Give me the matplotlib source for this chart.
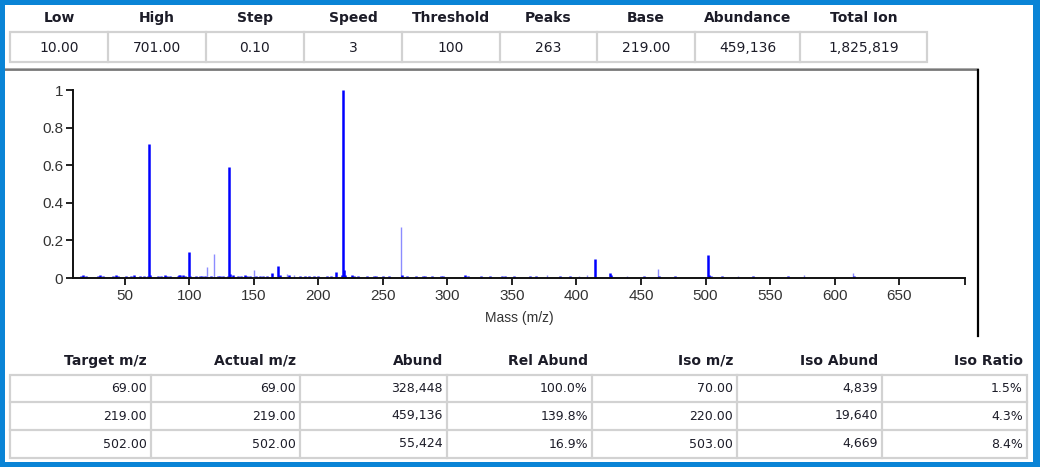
import matplotlib
matplotlib.use("Agg")
import matplotlib.pyplot as plt
from matplotlib.patches import Rectangle

# scan settings table
scan_headers = ["Low", "High", "Step", "Speed", "Threshold", "Peaks", "Base", "Abundance", "Total Ion"]
scan_values = ["10.00", "701.00", "0.10", "3", "100", "263", "219.00", "459,136", "1,825,819"]

# tune target table
target_headers = ["Target m/z", "Actual m/z", "Abund", "Rel Abund", "Iso m/z", "Iso Abund", "Iso Ratio"]
target_rows = [
    ["69.00", "69.00", "328,448", "100.0%", "70.00", "4,839", "1.5%"],
    ["219.00", "219.00", "459,136", "139.8%", "220.00", "19,640", "4.3%"],
    ["502.00", "502.00", "55,424", "16.9%", "503.00", "4,669", "8.4%"],
]

# spectrum, relative to base peak 219
mz_main = [16, 18, 20, 29, 31, 33, 41, 43, 45, 51, 55, 57, 62, 65, 68, 69, 70, 76, 78, 81, 83, 85,
           91, 92, 93, 95, 97, 100, 101, 105, 108, 110, 112, 117, 122, 124, 126, 130, 131, 132,
           134, 138, 140, 143, 145, 147, 152, 155, 157, 160, 164, 169, 170, 177, 186, 190, 193,
           197, 200, 207, 210, 214, 218, 219, 220, 221, 226, 228, 231, 238, 243, 245, 250, 255,
           265, 269, 276, 281, 283, 288, 295, 297, 314, 316, 326, 333, 342, 345, 352, 364, 369,
           387, 395, 414, 426, 427, 452, 464, 476, 502, 503, 504, 513, 537, 564, 615]
rel_main = [0.010, 0.014, 0.012, 0.010, 0.014, 0.012, 0.012, 0.015, 0.011, 0.010, 0.012, 0.014,
            0.010, 0.010, 0.012, 0.715, 0.014, 0.011, 0.012, 0.016, 0.013, 0.011,
            0.012, 0.014, 0.016, 0.016, 0.012, 0.140, 0.012, 0.011, 0.010, 0.010, 0.011, 0.010,
            0.010, 0.011, 0.010, 0.012, 0.588, 0.022,
            0.014, 0.011, 0.012, 0.014, 0.012, 0.012, 0.011, 0.011, 0.011, 0.010, 0.028, 0.064,
            0.015, 0.014, 0.010, 0.012, 0.011,
            0.012, 0.011, 0.012, 0.012, 0.030, 0.015, 1.000, 0.043, 0.015, 0.016, 0.013, 0.012,
            0.011, 0.012, 0.012, 0.011, 0.011,
            0.018, 0.012, 0.011, 0.011, 0.011, 0.011, 0.012, 0.012, 0.016, 0.012, 0.011, 0.010,
            0.010, 0.011, 0.010, 0.011, 0.011,
            0.012, 0.011, 0.100, 0.025, 0.014, 0.012, 0.012, 0.011, 0.121, 0.016, 0.012, 0.012,
            0.012, 0.012, 0.011]

# weaker trace drawn in pale blue
mz_pale = [114, 119, 150, 176, 181, 264, 377, 402, 408, 439, 463, 525, 576, 614]
rel_pale = [0.060, 0.130, 0.043, 0.020, 0.018, 0.273, 0.016, 0.012, 0.014, 0.012, 0.050,
            0.012, 0.018, 0.024]

W, H = 1040, 467
fig = plt.figure(figsize=(W / 100, H / 100), dpi=100)
fig.patch.set_facecolor("white")

# overlay in pixel coordinates for frame and tables
ov = fig.add_axes([0, 0, 1, 1])
ov.set_xlim(0, W)
ov.set_ylim(H, 0)
ov.axis("off")

blue = "#0a84d6"
grid_c = "#d2d2d2"
text_c = "#1c1c28"
font = "DejaVu Sans"

# blue window frame
for x, y, w, h in [(0, 0, W, 5), (0, 0, 5, H), (1033, 0, 7, H), (0, 462, W, 5)]:
    ov.add_patch(Rectangle((x, y), w, h, color=blue, lw=0, zorder=5))

# scan settings table
top_edges = [10, 108, 206, 304, 402, 500, 597, 695, 800, 927]
for i, (hd, val) in enumerate(zip(scan_headers, scan_values)):
    cx = (top_edges[i] + top_edges[i + 1]) / 2
    ov.text(cx, 18, hd, ha="center", va="center", fontsize=10, fontweight="bold",
            family=font, color=text_c)
    ov.text(cx, 47.5, val, ha="center", va="center", fontsize=10, family=font, color=text_c)
ov.add_patch(Rectangle((top_edges[0], 32), top_edges[-1] - top_edges[0], 30,
                       fill=False, ec=grid_c, lw=1.6))
for x in top_edges[1:-1]:
    ov.plot([x, x], [32, 62], color=grid_c, lw=1.6)

# plot panel border
ov.plot([5, 978], [68.5, 68.5], color="#9a9a9a", lw=1.2)
ov.plot([5, 978], [70, 70], color="#6e6e6e", lw=1.2)
ov.plot([977.5, 977.5], [70, 336], color="black", lw=1.6)

# target table
bot_edges = [10, 151, 300, 447, 592, 737, 882, 1027]
row_lines = [375, 402, 430, 458]
for j, hd in enumerate(target_headers):
    ov.text(bot_edges[j + 1] - 4, 361, hd, ha="right", va="center", fontsize=10,
            fontweight="bold", family=font, color=text_c)
    for r, row in enumerate(target_rows):
        cy = (row_lines[r] + row_lines[r + 1]) / 2
        ov.text(bot_edges[j + 1] - 4, cy, row[j], ha="right", va="center", fontsize=9,
                family=font, color=text_c)
ov.add_patch(Rectangle((bot_edges[0], row_lines[0]), bot_edges[-1] - bot_edges[0],
                       row_lines[-1] - row_lines[0], fill=False, ec=grid_c, lw=1.6))
for x in bot_edges[1:-1]:
    ov.plot([x, x], [row_lines[0], row_lines[-1]], color=grid_c, lw=1.6)
for y in row_lines[1:-1]:
    ov.plot([bot_edges[0], bot_edges[-1]], [y, y], color=grid_c, lw=1.6)

# spectrum
ax = fig.add_axes([73 / W, (H - 278) / H, (965 - 73) / W, (278 - 90) / H])
ax.set_xlim(10, 701)
ax.set_ylim(0, 1)
ax.vlines(mz_pale, 0, rel_pale, color="#8c8cff", lw=1.0, clip_on=False)
ax.vlines(mz_main, 0, rel_main, color="#0000ff", lw=1.8, clip_on=False)
ax.patch.set_alpha(0)
for s in ["top", "right"]:
    ax.spines[s].set_visible(False)
for s in ["left", "bottom"]:
    ax.spines[s].set_linewidth(1.4)
    ax.spines[s].set_color("#111111")
ax.set_xticks(range(50, 700, 50))
ax.set_xticks([701], minor=True)
ax.set_yticks([0, 0.2, 0.4, 0.6, 0.8, 1])
ax.set_yticklabels(["0", "0.2", "0.4", "0.6", "0.8", "1"])
ax.tick_params(axis="both", which="both", length=5, width=1.3, color="#111111",
               labelsize=11, labelcolor="#333333")
ax.tick_params(axis="x", pad=3)
ax.tick_params(axis="y", pad=2)
for lab in ax.get_xticklabels() + ax.get_yticklabels():
    lab.set_family("Liberation Sans")
ax.set_xlabel("Mass (m/z)", family="Liberation Sans", fontsize=10, color="#333333", labelpad=6)

fig.savefig("out.png", dpi=100)
